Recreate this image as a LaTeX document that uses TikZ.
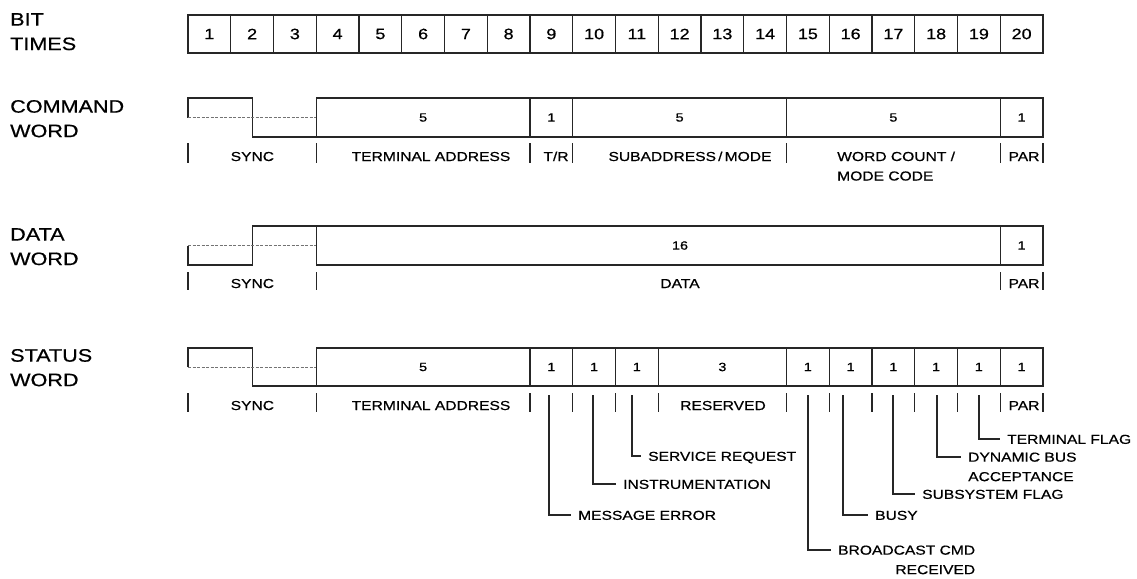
\documentclass[tikz,border=0pt]{standalone}
\usepackage{fontspec}
\setmainfont{Liberation Sans}[FakeStretch=1.2, UprightFeatures={FakeBold=0.6}]
\usetikzlibrary{calc}
\tikzset{
  ln/.style={draw=black!85, line width=1.1pt},
  cell/.style={draw=black!85, line width=1.1pt, rectangle, inner sep=0pt, outer sep=0pt, minimum width=42.75pt, minimum height=38pt, font=\fontsize{15}{15}\selectfont},
  fld/.style={draw=black!85, line width=1.1pt, rectangle, inner sep=0pt, outer sep=0pt, font=\fontsize{12}{12}\selectfont},
  fldtxt/.style={inner sep=0pt, font=\fontsize{12}{12}\selectfont},
  hdr/.style={anchor=west, align=left, inner sep=0pt, font=\fontsize{18}{24.5}\selectfont},
  lab/.style={anchor=base, inner sep=0pt, font=\fontsize{13}{20}\selectfont},
  call/.style={anchor=north west, inner sep=0pt, text height=9.3pt, text depth=0pt, font=\fontsize{13}{19.5}\selectfont},
  calltwo/.style={anchor=base west, inner sep=0pt, font=\fontsize{13}{19.5}\selectfont},
  sig/.style={draw=black!85, line width=1.1pt},
  dsh/.style={draw=black!55, line width=0.9pt, dash pattern=on 3pt off 1.5pt},
}
\newcommand\fieldnode[6]{%
  \pgfmathsetmacro\fldx{188+42.75*(#2-1)}%
  \pgfmathsetmacro\fldw{42.75*#3}%
  \node[fld, minimum width=\fldw pt, minimum height=#5 pt, anchor=north west] (#1) at (\fldx,#4) {#6};}
\begin{document}
\begin{tikzpicture}[x=1pt,y=-1pt]
\useasboundingbox (0,0) rectangle (1137,578);

% row headers
\node[hdr] (hB) at (10,31.7) {BIT\\TIMES};
\node[hdr] (hC) at (10,118.7) {COMMAND\\WORD};
\node[hdr] (hD) at (10,246.7) {DATA\\WORD};
\node[hdr] (hS) at (10,367.7) {STATUS\\WORD};

% bit times
\foreach \i in {1,...,20}{
  \pgfmathsetmacro\cx{188+42.75*(\i-0.5)}
  \node[cell] (t\i) at (\cx,34) {\i};
}

% command word
\fieldnode{cA}{4}{5}{98}{39}{5}
\fieldnode{cT}{9}{1}{98}{39}{1}
\fieldnode{cS}{10}{5}{98}{39}{5}
\fieldnode{cW}{15}{5}{98}{39}{5}
\fieldnode{cP}{20}{1}{98}{39}{1}
\draw[sig] (188,117.5) -- (188,98) -- (252.4,98) -- (252.4,137) -- (cA.south west);
\draw[dsh] (188,117.5) -- (cA.west);
\foreach \k in {1,4,9,10,15,20,21}{
  \pgfmathsetmacro\tx{188+42.75*(\k-1)}
  \draw[ln] (\tx,143) -- ++(0,20);
}
\node[lab] (lcS) at (252.4,161) {SYNC};
\node[lab] (lcA) at (431,161) {TERMINAL ADDRESS};
\node[lab] (lcT) at (556,161) {T/R};
\node[lab] (lcM) at (690,161) {SUBADDRESS\,/\,MODE};
\node[calltwo, align=left] (lcW) at (837,180.5) {WORD COUNT /\\MODE CODE};
\node[lab] (lcP) at (1024,161) {PAR};

% data word
\fieldnode{dD}{4}{16}{226}{39}{}
\fieldnode{dP}{20}{1}{226}{39}{1}
\node[fldtxt] (dDt) at (680,245.5) {16};
\draw[sig] (188,245.5) -- (188,265) -- (252.4,265) -- (252.4,226) -- (dD.north west);
\draw[dsh] (188,245.5) -- (dD.west);
\foreach \k in {1,4,20,21}{
  \pgfmathsetmacro\tx{188+42.75*(\k-1)}
  \draw[ln] (\tx,272) -- ++(0,18);
}
\node[lab] (ldS) at (252.4,288) {SYNC};
\node[lab] (ldD) at (680,288) {DATA};
\node[lab] (ldP) at (1024,288) {PAR};

% status word
\fieldnode{sA}{4}{5}{348}{38}{5}
\fieldnode{s9}{9}{1}{348}{38}{1}
\fieldnode{s10}{10}{1}{348}{38}{1}
\fieldnode{s11}{11}{1}{348}{38}{1}
\fieldnode{sR}{12}{3}{348}{38}{3}
\fieldnode{s15}{15}{1}{348}{38}{1}
\fieldnode{s16}{16}{1}{348}{38}{1}
\fieldnode{s17}{17}{1}{348}{38}{1}
\fieldnode{s18}{18}{1}{348}{38}{1}
\fieldnode{s19}{19}{1}{348}{38}{1}
\fieldnode{s20}{20}{1}{348}{38}{1}
\draw[sig] (188,367) -- (188,348) -- (252.4,348) -- (252.4,386) -- (sA.south west);
\draw[dsh] (188,367) -- (sA.west);
\foreach \k in {1,4,9,10,11,12,15,16,17,18,19,20,21}{
  \pgfmathsetmacro\tx{188+42.75*(\k-1)}
  \draw[ln] (\tx,393) -- ++(0,19);
}
\node[lab] (lsS) at (252.4,410) {SYNC};
\node[lab] (lsA) at (431,410) {TERMINAL ADDRESS};
\node[lab] (lsR) at (723,410) {RESERVED};
\node[lab] (lsP) at (1024,410) {PAR};

% status bit callouts
\coordinate (k9) at (549,395);
\coordinate (k10) at (593,395);
\coordinate (k11) at (632,395);
\coordinate (k15) at (808,395);
\coordinate (k16) at (843,395);
\coordinate (k17) at (893,395);
\coordinate (k18) at (937,395);
\coordinate (k19) at (979,395);
\node[call] (mME) at (578,510.35) {MESSAGE ERROR};
\node[call] (mIN) at (623,479.35) {INSTRUMENTATION};
\node[call] (mSR) at (648,451.35) {SERVICE REQUEST};
\node[call] (mBU) at (875,510.35) {BUSY};
\node[call] (mSF) at (922,489.35) {SUBSYSTEM FLAG};
\node[call] (mTF) at (1007,434.35) {TERMINAL FLAG};
\node[calltwo, align=right] (mBC) at (838,574.15) {BROADCAST CMD\\RECEIVED};
\node[calltwo, align=left] (mDB) at (968,481.15) {DYNAMIC BUS\\ACCEPTANCE};
\foreach \k/\m in {k9/mME,k10/mIN,k11/mSR,k16/mBU,k17/mSF,k19/mTF}{
  \draw[ln] (\k) |- ([xshift=-7pt,yshift=-4.65pt]\m.north west);
}
\foreach \k/\m in {k15/mBC,k18/mDB}{
  \draw[ln] (\k) |- ([xshift=-7pt,yshift=24.15pt]\m.base west);
}
\end{tikzpicture}
\end{document}
